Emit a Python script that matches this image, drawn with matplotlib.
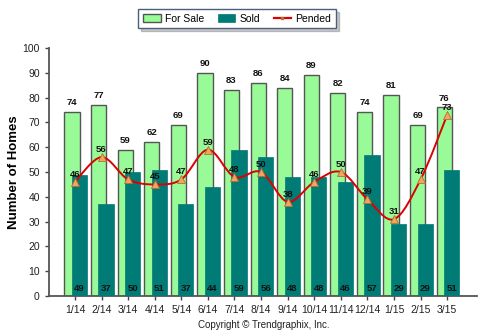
import numpy as np
import matplotlib
matplotlib.use('Agg')
import matplotlib.pyplot as plt
from matplotlib.path import Path
from matplotlib.patches import PathPatch
from matplotlib.lines import Line2D

plt.rcParams['font.family'] = ['Liberation Sans', 'DejaVu Sans']

months = ['1/14', '2/14', '3/14', '4/14', '5/14', '6/14', '7/14', '8/14',
          '9/14', '10/14', '11/14', '12/14', '1/15', '2/15', '3/15']
for_sale = [74, 77, 59, 62, 69, 90, 83, 86, 84, 89, 82, 74, 81, 69, 76]
sold = [49, 37, 50, 51, 37, 44, 59, 56, 48, 48, 46, 57, 29, 29, 51]
pended = [46, 56, 47, 45, 47, 59, 48, 50, 38, 46, 50, 39, 31, 47, 73]

green = '#98fb98'
teal = '#007b76'
red = '#dd0000'

fig = plt.figure(figsize=(4.84, 3.35), dpi=100)
ax = fig.add_axes([0.101, 0.116, 0.885, 0.741])

x = np.arange(len(months))
w = 0.57
b1 = ax.bar(x - 0.11, for_sale, w, color=green, edgecolor='#555555', linewidth=1.0,
            label='For Sale', zorder=2)
b2 = ax.bar(x + 0.17, sold, w, color=teal, edgecolor=teal, linewidth=0.5,
            label='Sold', zorder=3)

# smooth pended line (Catmull-Rom drawn as bezier path)
pts = np.column_stack([x, pended]).astype(float)
verts = [pts[0]]
codes = [Path.MOVETO]
for i in range(len(pts) - 1):
    p0 = pts[max(i - 1, 0)]
    p1 = pts[i]
    p2 = pts[i + 1]
    p3 = pts[min(i + 2, len(pts) - 1)]
    c1 = p1 + (p2 - p0) / 6.0
    c2 = p2 - (p3 - p1) / 6.0
    verts += [c1, c2, p2]
    codes += [Path.CURVE4] * 3
ax.add_patch(PathPatch(Path(verts, codes), fill=False, edgecolor=red, lw=1.4, zorder=4))
ax.plot(x, pended, linestyle='none', marker='^', markersize=5.5,
        markerfacecolor='#f4a460', markeredgecolor='#b07030', markeredgewidth=0.6, zorder=5)
pend_handle = Line2D([], [], color=red, lw=1.6, marker='s', markersize=2,
                     markerfacecolor='#f4a460', markeredgecolor='#b07030', label='Pended')

fs = 6.8
for i in range(len(months)):
    ax.text(x[i] - 0.11, for_sale[i] + 2, str(for_sale[i]), ha='center', va='bottom',
            fontsize=fs, fontweight='bold', color='#111111', zorder=6)
    ax.text(x[i] + 0.17, 1.2, str(sold[i]), ha='center', va='bottom',
            fontsize=fs, fontweight='bold', color='#111111', zorder=6)
    ax.text(x[i], pended[i] + 1.2, str(pended[i]), ha='center', va='bottom',
            fontsize=fs, fontweight='bold', color='#111111', zorder=6)

ax.set_xlim(-0.98, 15.13)
ax.set_ylim(0, 100)
ax.set_yticks(range(0, 101, 10))
ax.set_xticks(x)
ax.set_xticklabels(months)
ax.tick_params(axis='both', labelsize=7.5, colors='#444444', labelcolor='#222222',
               length=3, width=1)
for s in ['top', 'right']:
    ax.spines[s].set_visible(False)
for s in ['left', 'bottom']:
    ax.spines[s].set_color('#555555')
    ax.spines[s].set_linewidth(1.3)
ax.set_ylabel('Number of Homes', fontsize=9.5, fontweight='bold', labelpad=2)

leg = fig.legend(handles=[b1, b2, pend_handle], loc='center',
                 bbox_to_anchor=(0.49, 0.944), ncol=3, fontsize=7.5,
                 frameon=True, fancybox=False, shadow={'alpha': 0.3},
                 handlelength=1.7, handleheight=0.8, columnspacing=1.3,
                 handletextpad=0.4, borderpad=0.45)
leg.get_frame().set_edgecolor('#4a5f80')
leg.get_frame().set_linewidth(1.0)

fig.text(0.544, 0.03, 'Copyright \u00a9 Trendgraphix, Inc.', ha='center', va='center',
         fontsize=7, color='#222222')

fig.savefig('out.png', dpi=100)
